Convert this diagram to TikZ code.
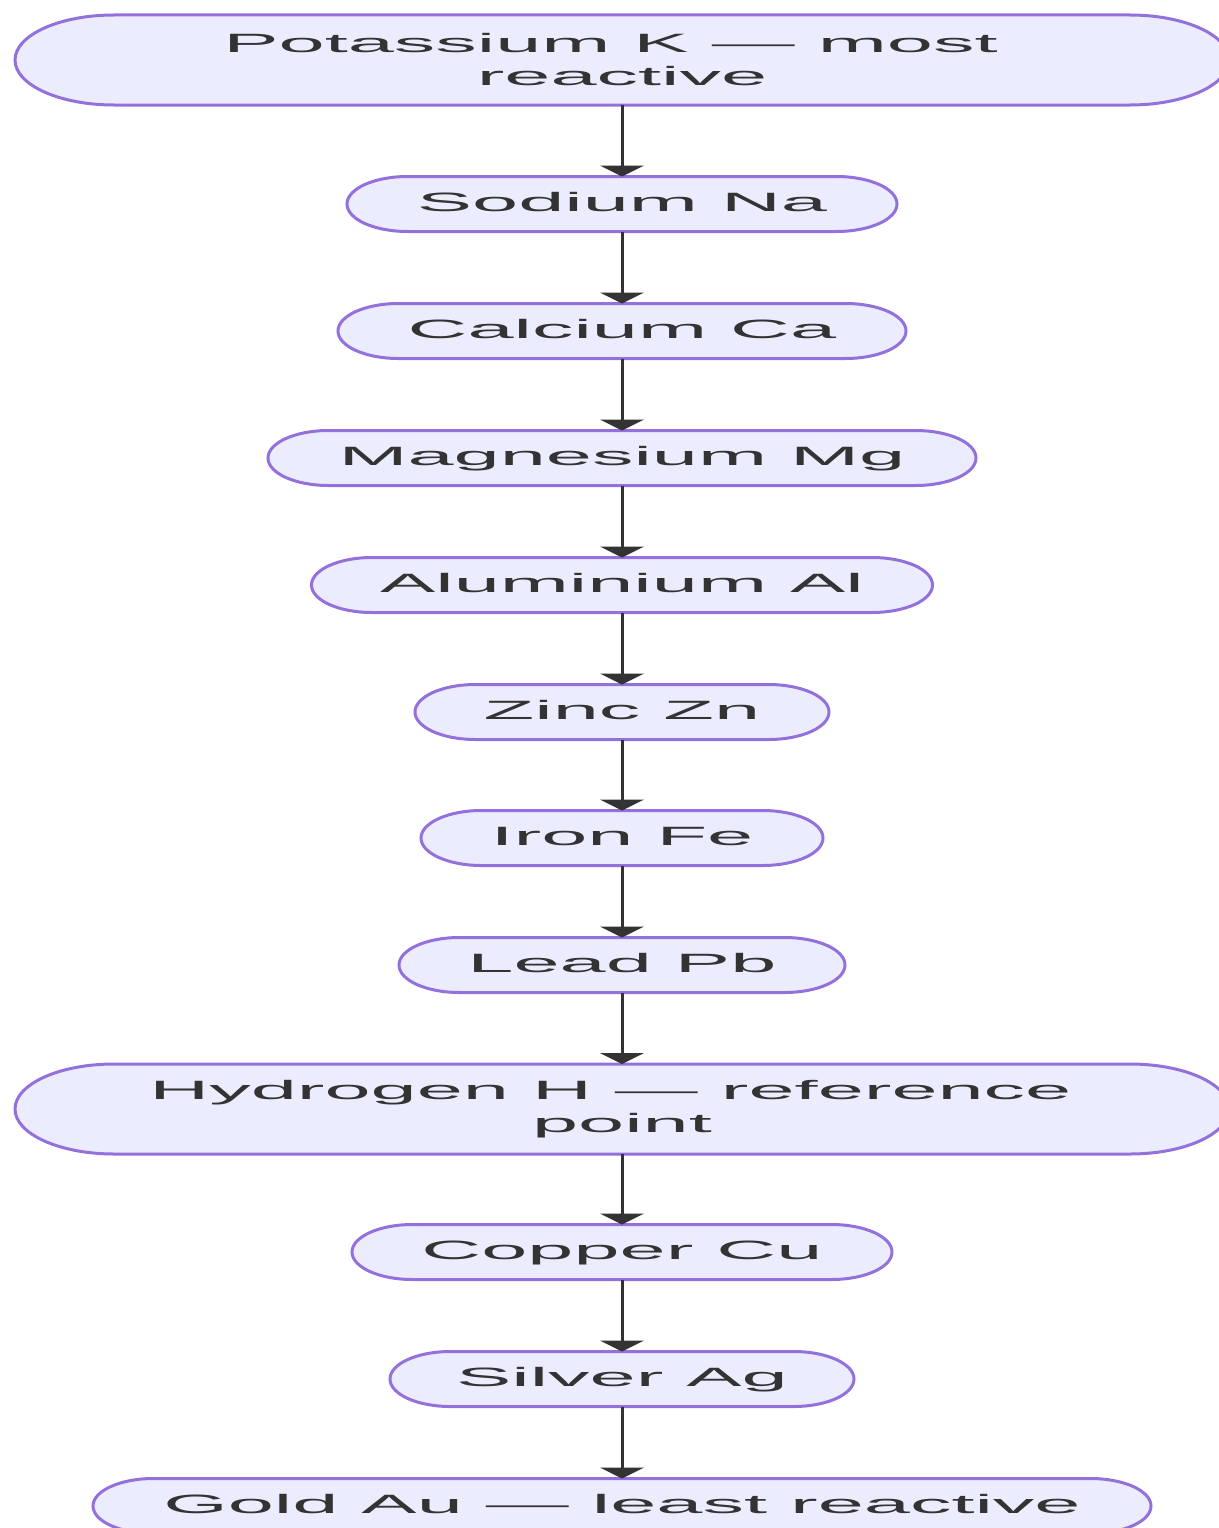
\documentclass[tikz,border=0pt]{standalone}
\usepackage{fontspec}
\newfontfamily\pillfont[FakeStretch=3.13]{Liberation Sans}
\usetikzlibrary{arrows.meta}
\definecolor{pillfill}{HTML}{ECECFF}
\definecolor{pillborder}{HTML}{9370DB}
\definecolor{inkgray}{HTML}{333333}
% name, y, width, height, extra style, text
\newcommand\pillnode[6]{%
  \pgfmathsetmacro\pillry{#4/2}%
  \pgfmathsetmacro\pillrx{2.2*\pillry}%
  \pgfmathsetmacro\pillxl{622-#3/2+\pillrx}%
  \pgfmathsetmacro\pillxr{622+#3/2-\pillrx}%
  \path[pill] (\pillxl,#2+\pillry) -- (\pillxr,#2+\pillry)
     arc[start angle=90,end angle=-90,x radius=\pillrx,y radius=\pillry]
     -- (\pillxl,#2-\pillry)
     arc[start angle=270,end angle=90,x radius=\pillrx,y radius=\pillry] -- cycle;
  \node[pilltext,#5,minimum width=#3pt,minimum height=#4pt] (#1) at (622,#2) {#6};}
\newcommand\trailsp{\hspace*{23pt}}
\begin{document}
\begin{tikzpicture}[x=1pt,y=1pt,
  pill/.style={fill=pillfill,draw=pillborder,line width=3pt},
  pilltext/.style={draw=none,inner sep=0pt,outer sep=0pt,text=inkgray,
    font=\pillfont\fontsize{26.5}{33}\selectfont},
  oneline/.style={text height=19.5pt,text depth=4pt},
  twoline/.style={align=center},
  flow/.style={draw=inkgray,line width=3pt,-{Triangle[width=44pt,length=11pt]}}]
\useasboundingbox (0,0) rectangle (1218,-1528);
\pillnode{k}{-60}{1214}{90}{twoline}{Potassium K — most\trailsp\\reactive}
\pillnode{na}{-204}{550}{55}{oneline}{Sodium Na}
\pillnode{ca}{-331}{568}{55}{oneline}{Calcium Ca}
\pillnode{mg}{-458}{708}{55}{oneline}{Magnesium Mg}
\pillnode{al}{-585}{621}{55}{oneline}{Aluminium Al}
\pillnode{zn}{-712}{414}{55}{oneline}{Zinc Zn}
\pillnode{fe}{-838}{402}{55}{oneline}{Iron Fe}
\pillnode{pb}{-965}{446}{55}{oneline}{Lead Pb}
\pillnode{h}{-1109}{1214}{90}{twoline}{Hydrogen H — reference\trailsp\\point}
\pillnode{cu}{-1252}{540}{55}{oneline}{Copper Cu}
\pillnode{ag}{-1379}{464}{55}{oneline}{Silver Ag}
\pillnode{au}{-1506}{1058}{55}{oneline}{Gold Au — least reactive}
\draw[flow] (k) -- (na);
\draw[flow] (na) -- (ca);
\draw[flow] (ca) -- (mg);
\draw[flow] (mg) -- (al);
\draw[flow] (al) -- (zn);
\draw[flow] (zn) -- (fe);
\draw[flow] (fe) -- (pb);
\draw[flow] (pb) -- (h);
\draw[flow] (h) -- (cu);
\draw[flow] (cu) -- (ag);
\draw[flow] (ag) -- (au);
\end{tikzpicture}
\end{document}
